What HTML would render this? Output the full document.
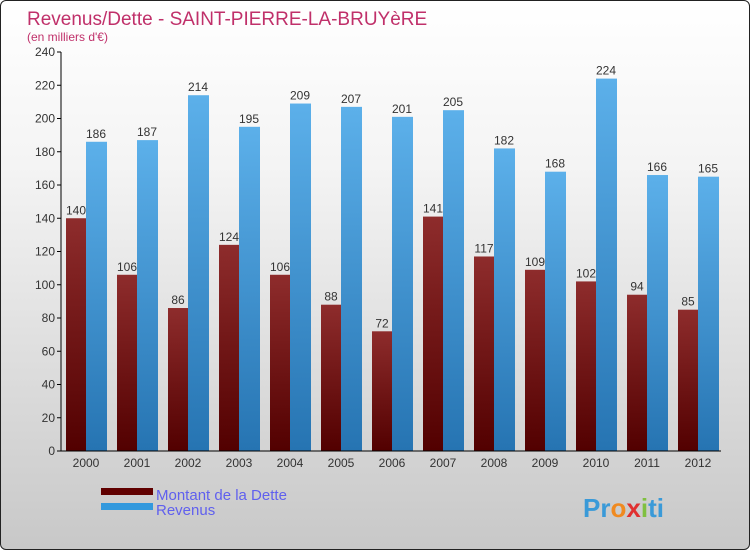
<!DOCTYPE html>
<html><head><meta charset="utf-8"><style>
body{margin:0}
#c{width:748px;height:548px;border:1px solid #222;border-radius:6px;overflow:hidden;background:linear-gradient(#fff,#f4f4f4 30%,#c8c8c8);position:relative;font-family:"Liberation Sans",sans-serif}
</style></head><body>
<div id="c">
<svg id="s" width="748" height="548" xmlns="http://www.w3.org/2000/svg">
<defs>
<linearGradient id="gd" x1="0" y1="0" x2="0" y2="1"><stop offset="0" stop-color="#8e2c2c"/><stop offset="1" stop-color="#520000"/></linearGradient>
<linearGradient id="gr" x1="0" y1="0" x2="0" y2="1"><stop offset="0" stop-color="#5cb0ea"/><stop offset="1" stop-color="#2674b2"/></linearGradient>
</defs>
<text x="26" y="24" font-size="19" fill="#c0306a">Revenus/Dette - SAINT-PIERRE-LA-BRUYèRE</text>
<text x="26" y="40" font-size="12" fill="#c0306a">(en milliers d'€)</text>
<g id="g"></g>
<rect x="100" y="487" width="52" height="7" fill="#600000"/>
<rect x="100" y="502" width="52" height="7" fill="#3399dd"/>
<text x="155" y="499" font-size="15" fill="#6060ee">Montant de la Dette</text>
<text x="155" y="514" font-size="15" fill="#6060ee">Revenus</text>
<text x="582" y="516" font-size="26" font-weight="bold" fill="#3a9ad8">Pr<tspan fill="#f08a20">o</tspan><tspan fill="#e03030">x</tspan><tspan fill="#80c040">i</tspan>ti</text>
</svg></div>
<script>
const years=["2000","2001","2002","2003","2004","2005","2006","2007","2008","2009","2010","2011","2012"];
const dette=[140,106,86,124,106,88,72,141,117,109,102,94,85];
const revenus=[186,187,214,195,209,207,201,205,182,168,224,166,165];
const ticks=[0,20,40,60,80,100,120,140,160,180,200,220,240];
const NS="http://www.w3.org/2000/svg",g=document.getElementById('g');
const y0=450,ymax=240,ph=399;
const Y=v=>y0-v/ymax*ph;
const X=i=>85+i*51;
function mk(t,a,txt){const e=document.createElementNS(NS,t);for(const k in a)e.setAttribute(k,a[k]);if(txt!==undefined)e.textContent=txt;g.appendChild(e);return e;}
ticks.forEach(t=>{
 const l=mk('line',{x1:56,x2:60,y1:Y(t),y2:Y(t),stroke:'#000'});
 
 
 const tx=mk('text',{x:54,y:Y(t)+4,'font-size':12,fill:'#333','text-anchor':'end'},t);
 
 
});
years.forEach((yr,i)=>{
 const c=X(i);
 const b1=mk('rect',{x:c-20,y:Y(dette[i]),width:20,height:y0-Y(dette[i]),fill:'url(#gd)'});
 
 
 const b2=mk('rect',{x:c,y:Y(revenus[i]),width:21,height:y0-Y(revenus[i]),fill:'url(#gr)'});
 
 
 const t1=mk('text',{x:c-10,y:Y(dette[i])-4,'font-size':12,fill:'#333','text-anchor':'middle'},dette[i]);
 
 
 const t2=mk('text',{x:c+10,y:Y(revenus[i])-4,'font-size':12,fill:'#333','text-anchor':'middle'},revenus[i]);
 
 
 const xl=mk('text',{x:c,y:466,'font-size':12,fill:'#333','text-anchor':'middle'},yr);
 
 
});
const ax=mk('line',{x1:60,x2:60,y1:Y(240),y2:y0,stroke:'#000'});


const bx=mk('line',{x1:56,x2:720,y1:y0,y2:y0,stroke:'#000'});


</script>
</body></html>
